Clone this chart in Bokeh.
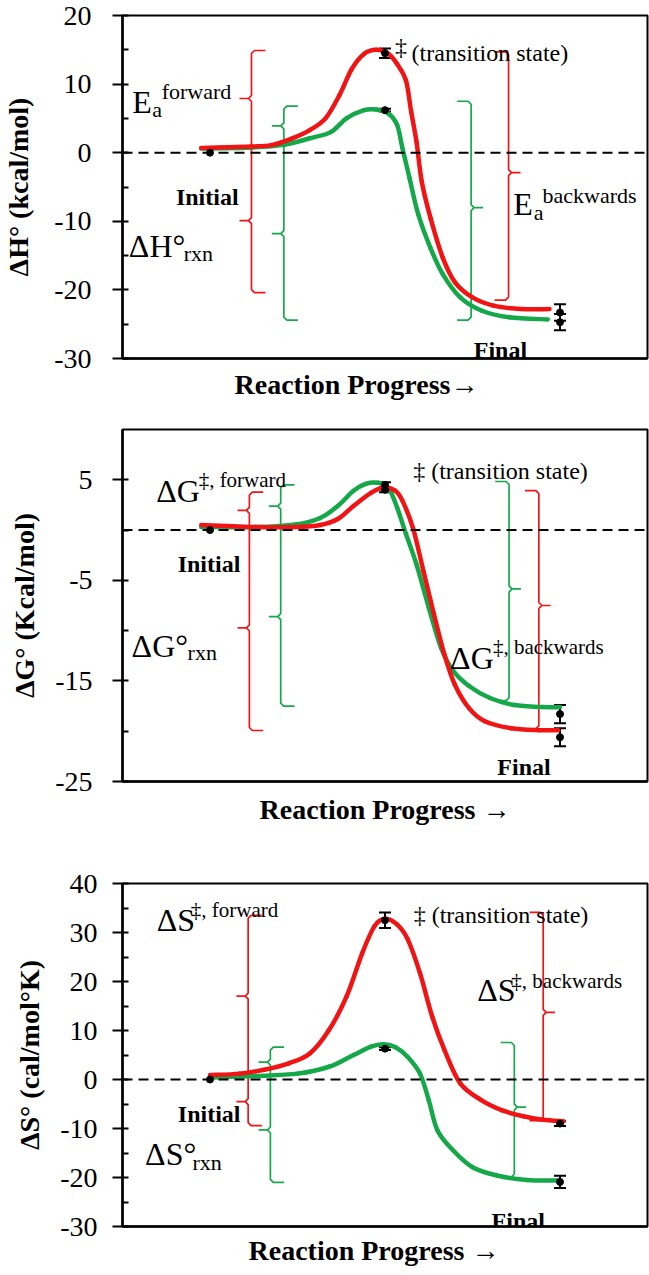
from bokeh.plotting import figure
from bokeh.layouts import column
from bokeh.models import Label, Span, Whisker, ColumnDataSource, FixedTicker, Range1d, TeeHead, Title
from bokeh.embed import file_html
from bokeh.resources import INLINE

RED = "#f01414"
GREEN = "#15a84a"
FONT = "Liberation Serif"

# ---------------- Panel 1: enthalpy ----------------
h_x_red = [0.95, 1.10, 1.24, 1.35, 1.47, 1.57, 1.66, 1.74, 1.81, 1.88, 1.95, 2.02, 2.07, 2.12, 2.15, 2.18,
           2.21, 2.26, 2.33, 2.40, 2.50, 2.62, 2.78, 2.94]
h_red = [0.7, 0.8, 0.9, 1.1, 2.1, 3.3, 5.0, 8.4, 12.2, 14.4, 15.0, 14.4, 12.9, 10.5, 5.9, 1.6,
         -4.2, -9.5, -15.3, -18.9, -21.1, -22.3, -22.8, -22.8]
h_x_green = [0.95, 1.24, 1.43, 1.57, 1.69, 1.78, 1.88, 1.95, 2.02, 2.07, 2.10, 2.14, 2.19, 2.26, 2.33,
             2.43, 2.55, 2.71, 2.93]
h_green = [0.6, 0.77, 1.2, 2.1, 3.0, 5.0, 6.2, 6.3, 5.7, 4.0, 0.6, -3.7, -9.0, -13.9, -17.7,
           -21.1, -23.0, -24.0, -24.3]
h_pts_x = [2, 2, 3, 3]
h_pts = [14.5, 6.2, -23.3, -24.7]
h_err = [0.7, 0.2, 1.2, 1.2]
h_ticks = [-30, -20, -10, 0, 10, 20]
h_minor = [-25, -15, -5, 5, 15]

# ---------------- Panel 2: free energy ----------------
g_x_red = [0.95, 1.26, 1.49, 1.63, 1.73, 1.82, 1.92, 1.99, 2.06, 2.10, 2.16, 2.22, 2.28, 2.34, 2.40,
           2.48, 2.57, 2.72, 2.88, 2.99]
g_red = [0.5, 0.3, 0.3, 0.5, 1.1, 2.4, 3.7, 4.2, 3.9, 2.9, 0.2, -4.1, -8.4, -12.4, -15.4,
         -17.7, -19.0, -19.7, -19.9, -19.9]
g_x_green = [0.95, 1.26, 1.49, 1.63, 1.73, 1.82, 1.89, 1.96, 2.02, 2.07, 2.12, 2.18, 2.25, 2.32, 2.39,
             2.48, 2.60, 2.74, 2.90, 3.0]
g_green = [0.3, 0.3, 0.56, 1.2, 2.4, 3.9, 4.6, 4.7, 4.2, 2.2, -0.4, -3.4, -7.7, -11.7, -14.0,
           -15.5, -16.7, -17.4, -17.6, -17.6]
g_pts_x = [2, 2, 3, 3]
g_pts = [4.5, 4.0, -18.3, -20.6]
g_err = [0.25, 0.25, 0.9, 0.9]
g_ticks = [-25, -15, -5, 5]
g_minor = [-20, -10, 0]

# ---------------- Panel 3: entropy ----------------
s_x_red = [1.0, 1.17, 1.31, 1.45, 1.57, 1.68, 1.78, 1.87, 1.94, 2.0, 2.07, 2.13, 2.20, 2.27, 2.34,
           2.43, 2.55, 2.67, 2.79, 2.90, 3.02]
s_red = [0.9, 1.2, 2.0, 3.3, 5.3, 10.1, 16.9, 25.8, 31.3, 32.8, 31.6, 28.6, 21.7, 12.8, 6.0,
         -0.8, -4.2, -6.3, -7.5, -8.2, -8.5]
s_x_green = [1.0, 1.26, 1.50, 1.68, 1.82, 1.92, 1.99, 2.06, 2.13, 2.20, 2.25, 2.30, 2.39, 2.50, 2.64,
             2.81, 3.0]
s_green = [0.4, 0.7, 1.2, 2.6, 5.0, 6.7, 7.2, 6.6, 4.6, 1.2, -4.2, -10.4, -14.5, -17.9, -19.6,
           -20.5, -20.6]
s_pts_x = [2, 2, 3, 3]
s_pts = [32.5, 6.3, -9.0, -20.9]
s_err = [1.6, 0.3, 0.5, 1.25]
s_ticks = [-30, -20, -10, 0, 10, 20, 30, 40]
s_minor = [-25, -15, -5, 5, 15, 25, 35]

initial_x = [1]
initial_y = [0]

FIG_W = 649


def brace(x0, top, bot, cusps, d, sx, sy, hook=14, tip=12, r=3):
    hx, tx, rx, ry = hook / sx, tip / sx, r / sx, r / sy
    xs = [x0 + d * hx, x0 + d * rx, x0]
    ys = [top, top, top - ry]
    for c in sorted(cusps, reverse=True):
        xs += [x0, x0 - d * rx, x0 - d * tx, x0 - d * rx, x0]
        ys += [c + ry, c, c, c, c - ry]
    xs += [x0, x0 + d * rx, x0 + d * hx]
    ys += [bot + ry, bot, bot]
    return xs, ys


def smooth_source(xs, ys):
    # Excel-style smoothed line: cubic Bezier segments through the read points
    n = len(xs)
    d = dict(x0=[], y0=[], x1=[], y1=[], cx0=[], cy0=[], cx1=[], cy1=[])
    for i in range(n - 1):
        a = max(i - 1, 0)
        b = min(i + 2, n - 1)
        d["x0"].append(xs[i]); d["y0"].append(ys[i])
        d["x1"].append(xs[i + 1]); d["y1"].append(ys[i + 1])
        d["cx0"].append(xs[i] + (xs[i + 1] - xs[a]) / 6.0)
        d["cy0"].append(ys[i] + (ys[i + 1] - ys[a]) / 6.0)
        d["cx1"].append(xs[i + 1] - (xs[b] - xs[i]) / 6.0)
        d["cy1"].append(ys[i + 1] - (ys[b] - ys[i]) / 6.0)
    return ColumnDataSource(d)


def make_panel(height, top, frame_h, left, right, yr, ticks, minor, ylabel, tick_stand, lab_stand,
               xlabel, xlab_align, xlab_offset, xlab_stand, xg, yg, xr, yr_, px, py, pe, braces, labels):
    bottom = height - top - frame_h
    p = figure(width=FIG_W, height=height, x_range=Range1d(0.5, 3.5), y_range=Range1d(*yr),
               output_backend="svg", toolbar_location=None,
               min_border_left=left, min_border_right=right, min_border_top=top,
               min_border_bottom=bottom)
    p.xgrid.visible = False
    p.ygrid.visible = False
    p.outline_line_color = "black"
    p.outline_line_width = 2
    p.background_fill_color = "white"
    p.border_fill_color = "white"

    fw = FIG_W - left - right
    sx = fw / 3.0
    sy = frame_h / float(yr[1] - yr[0])

    p.xaxis.ticker = FixedTicker(ticks=[])
    p.xaxis.axis_line_width = 2.5
    p.xaxis.axis_line_color = "black"
    p.xaxis.major_label_text_font_size = "0px"

    ya = p.yaxis[0]
    ya.ticker = FixedTicker(ticks=ticks, minor_ticks=minor)
    ya.major_label_overrides = {t: str(t) for t in ticks}
    ya.axis_label = ylabel
    ya.axis_label_text_font = FONT
    ya.axis_label_text_font_style = "bold"
    ya.axis_label_text_font_size = "28px"
    ya.axis_label_text_color = "black"
    ya.axis_label_standoff = lab_stand
    ya.axis_line_width = 2.5
    ya.axis_line_color = "black"
    ya.major_tick_in = 6
    ya.major_tick_out = 10
    ya.major_tick_line_width = 2
    ya.minor_tick_in = 6
    ya.minor_tick_out = 0
    ya.minor_tick_line_width = 2
    ya.major_label_text_font = FONT
    ya.major_label_text_font_size = "28px"
    ya.major_label_text_color = "black"
    ya.major_label_standoff = tick_stand

    # x axis title below the axis
    p.add_layout(Title(text=xlabel, align=xlab_align, offset=xlab_offset, standoff=xlab_stand,
                       text_font=FONT, text_font_size="28px", text_font_style="bold",
                       text_color="black"), "below")

    p.add_layout(Span(location=0, dimension="width", line_color="black",
                      line_width=2, line_dash="10 6"))

    for (x0, t, b, cs, d, col) in braces:
        bx, by = brace(x0, t, b, cs, d, sx, sy)
        p.line(bx, by, line_color=col, line_width=1.7)

    for xs_, ys_, col in ((xg, yg, GREEN), (xr, yr_, RED)):
        p.bezier(x0="x0", y0="y0", x1="x1", y1="y1", cx0="cx0", cy0="cy0", cx1="cx1", cy1="cy1",
                 source=smooth_source(xs_, ys_), line_color=col, line_width=4.5, line_cap="round")

    src = ColumnDataSource(dict(x=px, y=py,
                                lo=[v - e for v, e in zip(py, pe)],
                                hi=[v + e for v, e in zip(py, pe)]))
    p.add_layout(Whisker(source=src, base="x", upper="hi", lower="lo",
                         line_color="black", line_width=2,
                         upper_head=TeeHead(size=12, line_width=2, line_color="black"),
                         lower_head=TeeHead(size=12, line_width=2, line_color="black")))
    p.scatter(px, py, size=7, color="black")
    p.scatter(initial_x, initial_y, size=7, color="black")

    for (tx, ty, txt, size, style) in labels:
        p.add_layout(Label(x=tx, y=ty, text=txt, text_font=FONT, text_font_size="%dpx" % size,
                           text_font_style=style, text_baseline="alphabetic", text_align="left",
                           text_color="black"))
    return p


p1 = make_panel(
    420, 15, 343, 121, 2, (-30, 20), h_ticks, h_minor, "ΔH° (kcal/mol)", 21, 17,
    "Reaction Progress→", "left", 112, 16,
    h_x_green, h_green, h_x_red, h_red, h_pts_x, h_pts, h_err,
    [(1.237, 14.9, -20.4, [7.9, -9.9], 1, RED),
     (1.422, 6.8, -24.4, [3.9, -11.8], 1, GREEN),
     (2.492, 7.5, -24.4, [-8.0], -1, GREEN),
     (2.706, 14.7, -21.5, [-2.9], -1, RED)],
    [(0.555, 7.4, "E", 32, "normal"),
     (0.67, 6.3, "a", 22, "normal"),
     (0.724, 8.9, "forward", 22, "normal"),
     (0.536, -13.6, "ΔH°", 32, "normal"),
     (0.85, -14.7, "rxn", 22, "normal"),
     (0.805, -6.5, "Initial", 24, "bold"),
     (2.507, -28.7, "Final", 24, "bold"),
     (2.057, 15.4, "‡", 24, "normal"),
     (2.152, 14.6, "(transition state)", 24, "normal"),
     (2.733, -7.5, "E", 32, "normal"),
     (2.85, -8.7, "a", 22, "normal"),
     (2.9, -6.3, "backwards", 22, "normal")])

p2 = make_panel(
    420, 9, 352, 116, 1, (-25, 10), g_ticks, g_minor, "ΔG° (Kcal/mol)", 20, 12,
    "Reaction Progress →", "center", 0, 20,
    g_x_green, g_green, g_x_red, g_red, g_pts_x, g_pts, g_err,
    [(1.225, 3.77, -19.93, [1.95, -9.72], 1, RED),
     (1.404, 4.5, -17.5, [2.38, -8.6], 1, GREEN),
     (2.709, 4.83, -16.95, [-5.84], -1, GREEN),
     (2.879, 3.93, -19.77, [-7.5], -1, RED)],
    [(0.693, 3.93, "ΔG", 32, "normal"),
     (0.935, 4.93, "‡, forward", 21, "normal"),
     (0.552, -11.48, "ΔG°", 32, "normal"),
     (0.872, -12.2, "rxn", 22, "normal"),
     (0.815, -3.36, "Initial", 24, "bold"),
     (2.642, -23.6, "Final", 24, "bold"),
     (2.161, 5.92, "‡ (transition state)", 24, "normal"),
     (2.372, -12.7, "ΔG", 32, "normal"),
     (2.617, -11.64, "‡, backwards", 21, "normal")])

p3 = make_panel(
    435, 43, 343, 111, 1, (-30, 40), s_ticks, s_minor, "ΔS° (cal/mol°K)", 15, 12,
    "Reaction Progress →", "left", 126, 12,
    s_x_green, s_green, s_x_red, s_red, s_pts_x, s_pts, s_err,
    [(1.218, 33.5, -9.4, [17.0, -4.5], 1, RED),
     (1.345, 6.6, -21.0, [3.53, -10.3], 1, GREEN),
     (2.739, 7.55, -19.9, [-5.65], -1, GREEN),
     (2.904, 34.1, -8.4, [13.7], -1, RED)],
    [(0.695, 32.6, "ΔS", 32, "normal"),
     (0.89, 34.5, "‡, forward", 21, "normal"),
     (0.629, -15.3, "ΔS°", 32, "normal"),
     (0.9, -17.0, "rxn", 22, "normal"),
     (0.816, -7.0, "Initial", 24, "bold"),
     (2.609, -28.8, "Final", 24, "bold"),
     (2.164, 33.5, "‡  (transition state)", 24, "normal"),
     (2.527, 18.2, "ΔS", 32, "normal"),
     (2.722, 20.2, "‡, backwards", 21, "normal")])

layout = column(p1, p2, p3, spacing=0)
open("out.html", "w").write(file_html(layout, INLINE))
